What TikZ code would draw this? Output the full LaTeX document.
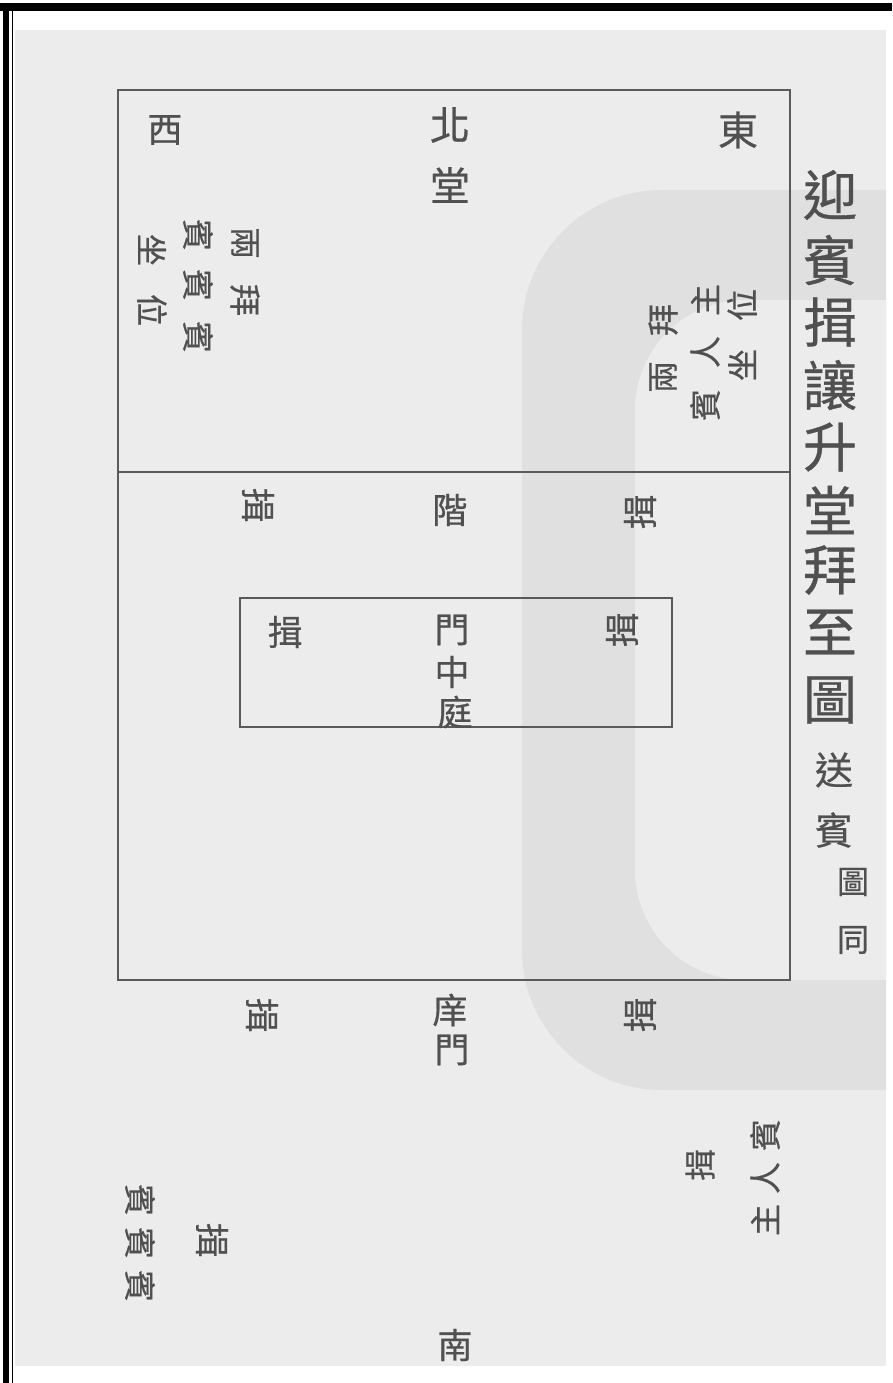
\documentclass[tikz,border=0pt]{standalone}
\usepackage{fontspec}
\newfontfamily\cjk[FakeBold=0.6]{Noto Sans CJK TC}
\definecolor{ink}{HTML}{505050}
\definecolor{rule}{HTML}{5A5A5A}
\definecolor{paper}{HTML}{ECECEC}
\definecolor{wmark}{HTML}{E0E0E0}
\begin{document}
\begin{tikzpicture}[x=1pt,y=-1pt,
  ch/.style={font=\cjk\fontsize{35}{35}\selectfont, text=ink, inner sep=0pt},
  big/.style={font=\cjk\fontsize{40}{40}\selectfont, text=ink, inner sep=0pt},
  sm/.style={font=\cjk\fontsize{32}{32}\selectfont, text=ink, inner sep=0pt},
  ttl/.style={font=\cjk\fontsize{54}{54}\selectfont, text=ink, inner sep=0pt},
  tsm/.style={font=\cjk\fontsize{38}{38}\selectfont, text=ink, inner sep=0pt},
  frame/.style={draw=rule, line width=1.3pt},
  cw/.style={rotate=-90},
  ccw/.style={rotate=90}]
\useasboundingbox (0,0) rectangle (892,1383);
% page
\fill[white] (0,0) rectangle (892,1383);
\fill[paper] (15,30) rectangle (886,1366);
% watermark
\begin{scope}
\clip (15,30) rectangle (886,1366);
\fill[wmark,rounded corners=140pt] (522,190) rectangle (1150,1090);
\fill[paper,rounded corners=110pt] (635,300) rectangle (1150,980);
\end{scope}
% black border
\fill[black] (0,3) rectangle (892,11);
\fill[black] (3,3) rectangle (9,1383);
\draw[black,line width=1pt] (12,11) -- (12,1383);
% frame lines
\coordinate (nw) at (118,90);
\coordinate (ne) at (790,90);
\coordinate (sw) at (118,980);
\coordinate (se) at (790,980);
\coordinate (dl) at (118,472);
\coordinate (dr) at (790,472);
\coordinate (inw) at (240,598);
\coordinate (ise) at (672,727);
\draw[frame] (nw) rectangle (se);
\draw[frame,line width=1.8pt] (dl) -- (dr);
\draw[frame] (inw) rectangle (ise);
% north hall
\node[ch] (xi) at (165,130) {西};
\node[big] (bei) at (450,125) {北};
\node[big] (tang) at (450,185) {堂};
\node[big] (dong) at (738,130) {東};
% guest position (west)
\node[sm,cw] (l1a) at (245,243) {兩};
\node[sm,cw] (l1b) at (245,300) {拜};
\node[sm,cw] (l2a) at (198,235) {賓};
\node[sm,cw] (l2b) at (198,285) {賓};
\node[sm,cw] (l2c) at (198,337) {賓};
\node[sm,cw] (l3a) at (152,250) {坐};
\node[sm,cw] (l3b) at (152,310) {位};
% host position (east)
\node[sm,ccw] (r1a) at (742,305) {位};
\node[sm,ccw] (r1b) at (742,365) {坐};
\node[sm,ccw] (r2a) at (705,300) {主};
\node[sm,ccw] (r2b) at (705,352) {人};
\node[sm,ccw] (r2c) at (705,405) {賓};
\node[sm,ccw] (r3a) at (663,320) {拜};
\node[sm,ccw] (r3b) at (663,377) {兩};
% steps row
\node[ch,cw] (y1) at (258,505) {揖};
\node[ch] (jie) at (450,510) {階};
\node[ch,ccw] (y2) at (640,512) {揖};
% court
\node[ch] (y3) at (285,632) {揖};
\node[ch] (men1) at (452,630) {門};
\node[ch] (zhong) at (452,672) {中};
\node[ch] (ting) at (455,712) {庭};
\node[ch,ccw] (y4) at (622,630) {揖};
% gate row
\node[ch,cw] (y5) at (262,1015) {揖};
\node[ch] (xiang) at (450,1010) {庠};
\node[ch] (men2) at (452,1050) {門};
\node[ch,ccw] (y6) at (640,1015) {揖};
% host outside gate
\node[sm,ccw] (h1) at (765,1135) {賓};
\node[sm,ccw] (h2) at (765,1178) {人};
\node[sm,ccw] (h3) at (765,1220) {主};
\node[sm,ccw] (h4) at (700,1165) {揖};
% guests outside gate
\node[sm,cw] (g1) at (140,1200) {賓};
\node[sm,cw] (g2) at (140,1243) {賓};
\node[sm,cw] (g3) at (140,1286) {賓};
\node[ch,cw] (g4) at (212,1240) {揖};
% south
\node[ch] (nan) at (455,1345) {南};
% title
\node[ttl] (t1) at (830,195) {迎};
\node[ttl] (t2) at (830,260) {賓};
\node[ttl] (t3) at (830,322) {揖};
\node[ttl] (t4) at (830,385) {讓};
\node[ttl] (t5) at (830,447) {升};
\node[ttl] (t6) at (830,510) {堂};
\node[ttl] (t7) at (830,570) {拜};
\node[ttl] (t8) at (830,632) {至};
\node[ttl] (t9) at (830,700) {圖};
\node[tsm] (s1) at (834,770) {送};
\node[tsm] (s2) at (834,830) {賓};
\node[sm] (s3) at (853,882) {圖};
\node[sm] (s4) at (853,940) {同};
\end{tikzpicture}
\end{document}
